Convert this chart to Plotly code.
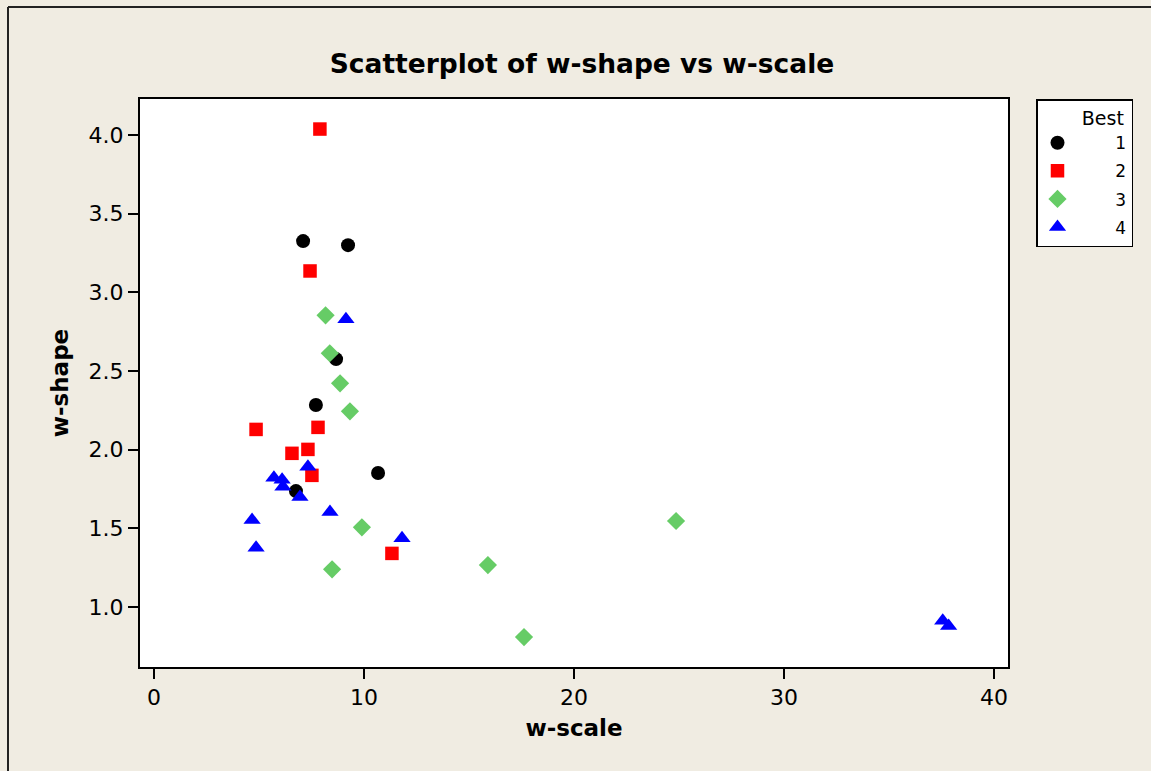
import plotly.graph_objects as go

# ---- data ----
best1_scale = [7.10, 9.24, 8.67, 7.71, 10.67, 6.76]
best1_shape = [3.326, 3.300, 2.576, 2.284, 1.852, 1.737]

best2_scale = [7.90, 7.43, 4.86, 7.81, 6.57, 7.33, 7.52, 11.33]
best2_shape = [4.038, 3.136, 2.129, 2.142, 1.977, 2.002, 1.837, 1.341]

best3_scale = [8.17, 8.37, 8.86, 9.33, 9.90, 8.48, 15.90, 17.62, 24.86]
best3_shape = [2.854, 2.613, 2.422, 2.244, 1.507, 1.240, 1.267, 0.809, 1.547]

best4_scale = [9.14, 7.33, 5.71, 6.10, 6.14, 6.95, 8.38, 4.67, 4.86, 11.81, 37.56, 37.84]
best4_shape = [2.829, 1.892, 1.822, 1.809, 1.764, 1.699, 1.604, 1.553, 1.377, 1.438, 0.913, 0.879]

group_labels = ["1", "2", "3", "4"]
x_ticks = [0, 10, 20, 30, 40]
y_ticks = [1.0, 1.5, 2.0, 2.5, 3.0, 3.5, 4.0]

FONT = "DejaVu Sans"
BG = "#F0ECE2"

series = [
    (best1_scale, best1_shape, "circle", 14, "#000000"),
    (best2_scale, best2_shape, "square", 13.5, "#FF0000"),
    (best3_scale, best3_shape, "diamond", 14, "#66CC66"),
    (best4_scale, best4_shape, "triangle-up", 15, "#0000FF"),
]

fig = go.Figure()
pad = "\u00a0" * 7
for (xs, ys, sym, sz, col), lab in zip(series, group_labels):
    fig.add_trace(go.Scatter(
        x=xs, y=ys, mode="markers", name=pad + lab, legendgroup=lab,
        marker=dict(symbol=sym, size=sz, color=col, line=dict(width=0)),
    ))

axis_common = dict(
    showline=True, linecolor="black", linewidth=2, mirror=True,
    ticks="outside", ticklen=10, tickwidth=2, tickcolor="black",
    showgrid=False, zeroline=False,
    tickfont=dict(family=FONT, size=22, color="black"),
)

fig.update_layout(
    width=1151, height=771,
    paper_bgcolor=BG, plot_bgcolor="white",
    margin=dict(l=140, r=143, t=99, b=104),
    title=dict(text="<b>Scatterplot of w-shape vs w-scale</b>",
               x=582 / 1151, xanchor="center", y=1 - 64 / 771, yanchor="middle",
               font=dict(family=FONT, size=26.5, color="black")),
    xaxis=dict(range=[-0.667, 40.667], tickvals=x_ticks, ticktext=[str(v) for v in x_ticks],
               title=dict(text="<b>w-scale</b>", standoff=10,
                          font=dict(family=FONT, size=23, color="black")),
               **axis_common),
    yaxis=dict(range=[0.619, 4.229], tickvals=y_ticks, ticktext=[f"{v:.1f}" for v in y_ticks],
               title=dict(text="<b>w-shape</b>", standoff=14,
                          font=dict(family=FONT, size=23, color="black")),
               **axis_common),
    legend=dict(x=(1036 - 140) / 868, xanchor="left", y=1, yanchor="top",
                bgcolor="white", bordercolor="black", borderwidth=1.5,
                font=dict(family=FONT, size=17, color="black"),
                title=dict(text=pad + "Best", font=dict(family=FONT, size=19, color="black")),
                tracegroupgap=3, itemwidth=30),
    showlegend=True,
)

# outer frame lines (left and top)
fx = (8 - 140) / 868
fy = 1 + 92 / 568
fig.add_shape(type="line", xref="paper", yref="paper",
              x0=fx, x1=fx, y0=-0.3, y1=fy,
              line=dict(color="#222222", width=2))
fig.add_shape(type="line", xref="paper", yref="paper",
              x0=fx, x1=1.3, y0=fy, y1=fy,
              line=dict(color="#222222", width=2))

fig.write_html("out.html", config={"displayModeBar": False},
               post_script="document.body.style.margin='0';document.body.style.overflow='hidden';")
